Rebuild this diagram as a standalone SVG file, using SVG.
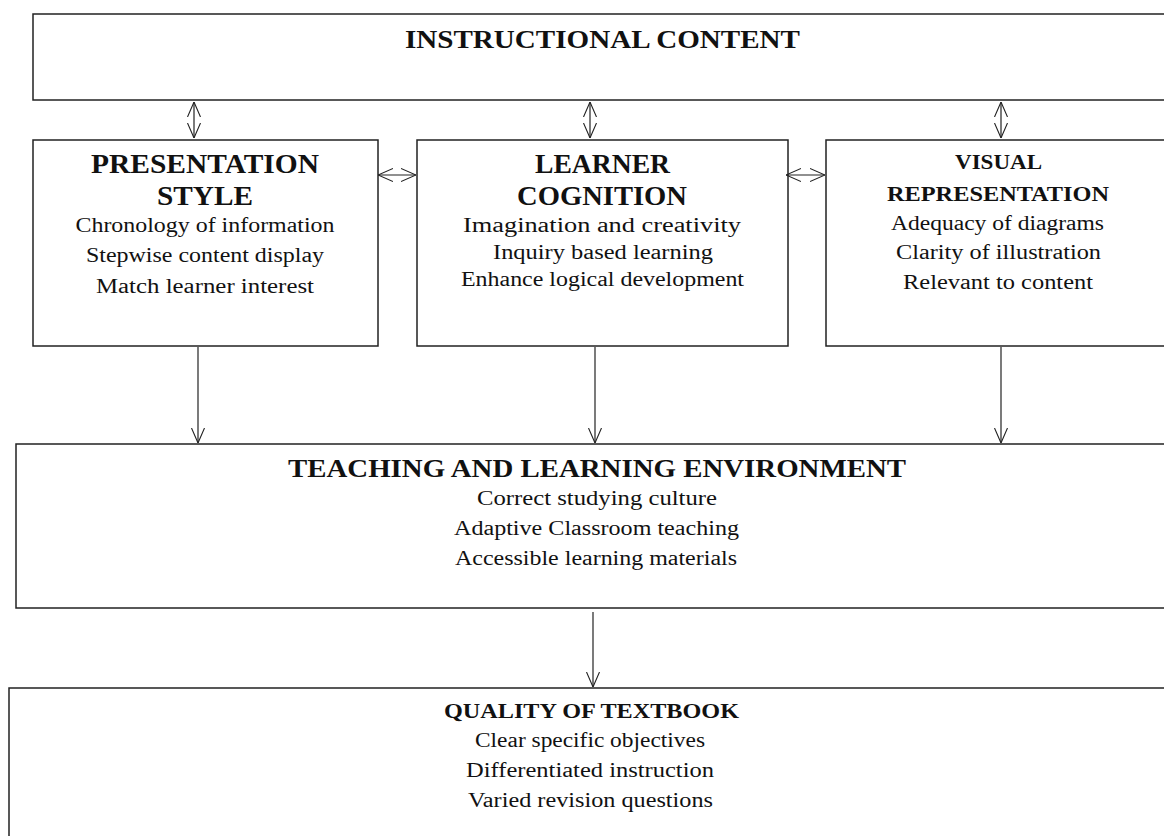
<svg xmlns="http://www.w3.org/2000/svg" width="1164" height="836" viewBox="0 0 1164 836">
<style>
.box{fill:#fff;stroke:#222;stroke-width:1.5}
.h{font-family:"Liberation Serif",serif;font-weight:bold;fill:#111;text-anchor:middle}
.b{font-family:"Liberation Serif",serif;fill:#111;text-anchor:middle;font-size:20px}
.c{fill:none;stroke:#222;stroke-width:1.2}
</style>
<defs>
<marker id="ah" viewBox="0 0 15 14" refX="15" refY="7" markerWidth="15" markerHeight="14" markerUnits="userSpaceOnUse" orient="auto-start-reverse">
<path d="M0,0.5 L15,7 L0,13.5" fill="none" stroke="#222" stroke-width="1.1"/>
</marker>
</defs>
<rect width="1164" height="836" fill="#fff"/>
<g id="instructional-content">
<rect class="box" x="33" y="14" width="1140" height="86"/>
<text class="h" x="602.5" y="48" font-size="26" textLength="395" lengthAdjust="spacingAndGlyphs">INSTRUCTIONAL CONTENT</text>
</g>
<g id="presentation-style">
<rect class="box" x="33" y="140" width="345" height="206"/>
<text class="h" x="205" y="173" font-size="27" textLength="228" lengthAdjust="spacingAndGlyphs">PRESENTATION</text>
<text class="h" x="205" y="205" font-size="27" textLength="96" lengthAdjust="spacingAndGlyphs">STYLE</text>
<text class="b" x="205" y="232" textLength="259" lengthAdjust="spacingAndGlyphs">Chronology of information</text>
<text class="b" x="205" y="262" textLength="238" lengthAdjust="spacingAndGlyphs">Stepwise content display</text>
<text class="b" x="205" y="293" textLength="218" lengthAdjust="spacingAndGlyphs">Match learner interest</text>
</g>
<g id="learner-cognition">
<rect class="box" x="417" y="140" width="371" height="206"/>
<text class="h" x="602.5" y="173" font-size="27" textLength="135" lengthAdjust="spacingAndGlyphs">LEARNER</text>
<text class="h" x="602" y="205" font-size="27" textLength="170" lengthAdjust="spacingAndGlyphs">COGNITION</text>
<text class="b" x="602" y="232" textLength="278" lengthAdjust="spacingAndGlyphs">Imagination and creativity</text>
<text class="b" x="603" y="259" textLength="220" lengthAdjust="spacingAndGlyphs">Inquiry based learning</text>
<text class="b" x="602.5" y="286" textLength="283" lengthAdjust="spacingAndGlyphs">Enhance logical development</text>
</g>
<g id="visual-representation">
<rect class="box" x="826" y="140" width="350" height="206"/>
<text class="h" x="998.5" y="169" font-size="20" textLength="87" lengthAdjust="spacingAndGlyphs">VISUAL</text>
<text class="h" x="998" y="201" font-size="20" textLength="222" lengthAdjust="spacingAndGlyphs">REPRESENTATION</text>
<text class="b" x="997.5" y="230" textLength="213" lengthAdjust="spacingAndGlyphs">Adequacy of diagrams</text>
<text class="b" x="998.5" y="259" textLength="205" lengthAdjust="spacingAndGlyphs">Clarity of illustration</text>
<text class="b" x="998" y="289" textLength="190" lengthAdjust="spacingAndGlyphs">Relevant to content</text>
</g>
<g id="teaching-learning-environment">
<rect class="box" x="16" y="444" width="1160" height="164"/>
<text class="h" x="597" y="477" font-size="26" textLength="618" lengthAdjust="spacingAndGlyphs">TEACHING AND LEARNING ENVIRONMENT</text>
<text class="b" x="597" y="505" textLength="240" lengthAdjust="spacingAndGlyphs">Correct studying culture</text>
<text class="b" x="596.5" y="535" textLength="285" lengthAdjust="spacingAndGlyphs">Adaptive Classroom teaching</text>
<text class="b" x="596" y="565" textLength="282" lengthAdjust="spacingAndGlyphs">Accessible learning materials</text>
</g>
<g id="quality-of-textbook">
<rect class="box" x="9" y="688" width="1170" height="160"/>
<text class="h" x="591.5" y="718" font-size="20" textLength="295" lengthAdjust="spacingAndGlyphs">QUALITY OF TEXTBOOK</text>
<text class="b" x="590" y="747" textLength="230" lengthAdjust="spacingAndGlyphs">Clear specific objectives</text>
<text class="b" x="590" y="777" textLength="248" lengthAdjust="spacingAndGlyphs">Differentiated instruction</text>
<text class="b" x="590.5" y="807" textLength="245" lengthAdjust="spacingAndGlyphs">Varied revision questions</text>
</g>
<g id="connectors">
<line class="c" x1="194" y1="102" x2="194" y2="138" marker-start="url(#ah)" marker-end="url(#ah)"/>
<line class="c" x1="590" y1="102" x2="590" y2="138" marker-start="url(#ah)" marker-end="url(#ah)"/>
<line class="c" x1="1001" y1="102" x2="1001" y2="138" marker-start="url(#ah)" marker-end="url(#ah)"/>
<line class="c" x1="378" y1="175" x2="416" y2="175" marker-start="url(#ah)" marker-end="url(#ah)"/>
<line class="c" x1="786" y1="175" x2="825" y2="175" marker-start="url(#ah)" marker-end="url(#ah)"/>
<line class="c" x1="198" y1="347" x2="198" y2="443" marker-end="url(#ah)"/>
<line class="c" x1="595" y1="347" x2="595" y2="443" marker-end="url(#ah)"/>
<line class="c" x1="1001" y1="347" x2="1001" y2="443" marker-end="url(#ah)"/>
<line class="c" x1="593" y1="612" x2="593" y2="687" marker-end="url(#ah)"/>
</g>
</svg>
